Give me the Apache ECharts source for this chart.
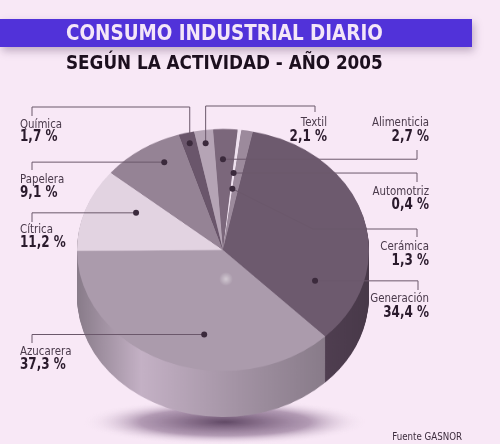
<!DOCTYPE html>
<html>
<head>
    <meta charset="UTF-8">
    <title>Consumo industrial diario</title>
    <script src="https://cdn.jsdelivr.net/npm/echarts@6/dist/echarts.min.js"></script>
    <style type="text/css">
    * {
        margin: 0;
        padding: 0;
    }
    body {
        background-color: #f8e8f6;
        width: 500px;
        height: 444px;
        overflow: hidden;
    }
    /* la torta se achata con scaleY para simular la perspectiva */
    #pie {
        position: absolute;
        left: 0;
        top: 0;
        width: 500px;
        height: 540px;
        transform: scaleY(0.829);
        transform-origin: 0 0;
    }
    #over {
        position: absolute;
        left: 0;
        top: 0;
        width: 500px;
        height: 444px;
    }
    </style>
</head>
<body>
<div id="pie"></div>
<div id="over"></div>
<script>
    // datos
    var sectores = ['Alimenticia', 'Automotriz', 'Cerámica', 'Generación', 'Azucarera', 'Cítrica', 'Papelera', 'Química', 'Textil'];
    var valores = [2.7, 0.4, 1.3, 34.4, 37.3, 11.2, 9.1, 1.7, 2.1];

    // estilos
    var colores = ['#7b677b', '#efe1ef', '#9c8a9c', '#6d5a6e', '#ab9bac', '#e2d3e1', '#958395', '#6a566b', '#b5a4b5'];
    var coloresLado = ['#5c4a5c', '#b8a8b8', '#7a687a', '#604c61', '#a696a7', '#b3a3b3', '#756375', '#4e3c4e', '#8e7d8e'];

    // geometria (pantalla)
    var CX = 223, CY = 250, RX = 146, K = 0.829, ALTO = 46, CAPAS = 56;
    var INICIO = 93.9;   // startAngle de echarts

    var fuente = "'DejaVu Sans Condensed', sans-serif";

    function tono(hex, f) {
        var n = parseInt(hex.slice(1), 16);
        var r = Math.min(255, Math.round(((n >> 16) & 255) * f));
        var g = Math.min(255, Math.round(((n >> 8) & 255) * f));
        var b = Math.min(255, Math.round((n & 255) * f));
        return 'rgb(' + r + ',' + g + ',' + b + ')';
    }

    function gradLado(hex) {
        return {
            type: 'linear', x: CX - RX, y: 0, x2: CX + RX, y2: 0, global: true,
            colorStops: [
                {offset: 0, color: tono(hex, 0.82)},
                {offset: 0.22, color: tono(hex, 1.18)},
                {offset: 0.55, color: tono(hex, 0.98)},
                {offset: 0.85, color: tono(hex, 0.82)},
                {offset: 1, color: tono(hex, 0.75)}
            ]
        };
    }

    /* ---------- torta ---------- */
    var chartPie = echarts.init(document.getElementById('pie'), null, {renderer: 'canvas'});
    var cyPre = CY / K, altoPre = ALTO / K;
    var series = [];
    for (var c = CAPAS; c >= 0; c--) {
        var datos = [];
        for (var i = 0; i < sectores.length; i++) {
            datos.push({
                name: sectores[i],
                value: valores[i],
                itemStyle: {color: c === 0 ? colores[i] : gradLado(coloresLado[i])}
            });
        }
        series.push({
            type: 'pie',
            silent: true,
            animation: false,
            z: 2 + (CAPAS - c),
            center: [CX, cyPre + c * altoPre / CAPAS],
            radius: [0, RX],
            startAngle: INICIO,
            clockwise: true,
            label: {show: false},
            labelLine: {show: false},
            itemStyle: {borderWidth: 0},
            data: datos
        });
    }
    chartPie.setOption({
        animation: false,
        graphic: [{
            type: 'circle', x: 225, y: 422 / K, scaleY: 0.16 / K, z: 0,
            shape: {cx: 0, cy: 0, r: 142},
            style: {
                fill: {
                    type: 'radial', x: 0.5, y: 0.5, r: 0.5,
                    colorStops: [
                        {offset: 0, color: 'rgba(80,55,85,0.9)'},
                        {offset: 0.6, color: 'rgba(120,90,125,0.55)'},
                        {offset: 1, color: 'rgba(248,232,246,0)'}
                    ]
                }
            }
        }],
        series: series
    });

    /* ---------- textos, lineas y puntos ---------- */
    // posicion del punto dentro de cada porcion: fraccion del angulo y del radio
    var puntos = [[0.4, 0.75], [0.5, 0.64], [0.0, 0.51], [0.81, 0.68], [0.41, 0.71], [0.69, 0.67], [0.65, 0.83], [0.5, 0.91], [0.5, 0.89]];
    // recorrido de la linea guia ('D' = coordenada del punto)
    var rutas = [
        [[417, 'D'], [417, 150]],
        [[417, 'D'], [417, 182]],
        [[313, 229], [417, 229], [417, 237]],
        [[418, 'D'], [418, 290]],
        [[32, 'D'], [32, 343]],
        [[32, 'D'], [32, 222]],
        [[32, 'D'], [32, 170]],
        [['D', 107], [32, 107], [32, 116]],
        [['D', 106], [315, 106], [315, 112]]
    ];
    // [x, y nombre, y valor, alineacion]
    var rotulos = [
        [429, 123, 136.5, 'right'],
        [429, 192, 204.5, 'right'],
        [429, 247, 260.5, 'right'],
        [429, 299, 312.5, 'right'],
        [20, 352, 364.5, 'left'],
        [20, 229.5, 243, 'left'],
        [20, 180, 192.5, 'left'],
        [20, 124.5, 137, 'left'],
        [327, 123, 136.5, 'right']
    ];

    var total = valores.reduce(function (a, b) { return a + b; }, 0);
    var g = [];

    // barra del titulo
    g.push({
        type: 'rect', shape: {x: 0, y: 19, width: 472, height: 28},
        style: {fill: '#5132d9', shadowBlur: 8, shadowOffsetY: 4, shadowOffsetX: 2, shadowColor: 'rgba(90,60,100,0.35)'}
    });
    g.push({
        type: 'text', x: 66, y: 34, scaleX: 0.927,
        style: {text: 'CONSUMO INDUSTRIAL DIARIO', fill: '#f4e6f8', font: '600 22px ' + fuente, textVerticalAlign: 'middle'}
    });
    g.push({
        type: 'text', x: 66, y: 64, scaleX: 0.935,
        style: {text: 'SEGÚN LA ACTIVIDAD - AÑO 2005', fill: '#1c0f1e', font: 'bold 20px ' + fuente, textVerticalAlign: 'middle'}
    });

    // brillo central
    g.push({
        type: 'circle', shape: {cx: 226, cy: 279, r: 7},
        style: {fill: {type: 'radial', x: 0.5, y: 0.5, r: 0.5, colorStops: [
            {offset: 0, color: 'rgba(255,255,255,0.45)'}, {offset: 1, color: 'rgba(255,255,255,0)'}]}}
    });

    var acum = 0;
    for (var j = 0; j < sectores.length; j++) {
        var span = valores[j] / total * 360;
        var ini = (90 - INICIO) + acum;
        acum += span;
        var th = (ini + puntos[j][0] * span) * Math.PI / 180;
        var px = CX + puntos[j][1] * RX * Math.sin(th);
        var py = CY - puntos[j][1] * RX * K * Math.cos(th);

        var pts = [[px, py]];
        rutas[j].forEach(function (p) {
            pts.push([p[0] === 'D' ? px : p[0], p[1] === 'D' ? py : p[1]]);
        });
        g.push({type: 'polyline', shape: {points: pts}, style: {stroke: '#6b586b', lineWidth: 1, fill: null}});
        g.push({type: 'circle', shape: {cx: px, cy: py, r: 3}, style: {fill: '#3b2a3c'}});

        var r = rotulos[j];
        g.push({
            type: 'text', x: r[0], y: r[1], scaleX: 0.875,
            style: {text: sectores[j], fill: '#4a3a4b', font: '13px ' + fuente, textAlign: r[3], textVerticalAlign: 'middle'}
        });
        g.push({
            type: 'text', x: r[0], y: r[2], scaleX: 0.86,
            style: {text: valores[j].toFixed(1).replace('.', ',') + ' %', fill: '#2a1a2c', font: 'bold 15.5px ' + fuente, textAlign: r[3], textVerticalAlign: 'middle'}
        });
    }

    g.push({
        type: 'text', x: 462, y: 437.5, scaleX: 0.875,
        style: {text: 'Fuente GASNOR', fill: '#3b2b3c', font: '11px ' + fuente, textAlign: 'right', textVerticalAlign: 'middle'}
    });

    var chartOver = echarts.init(document.getElementById('over'), null, {renderer: 'canvas'});
    chartOver.setOption({animation: false, graphic: g});
</script>
</body>
</html>
